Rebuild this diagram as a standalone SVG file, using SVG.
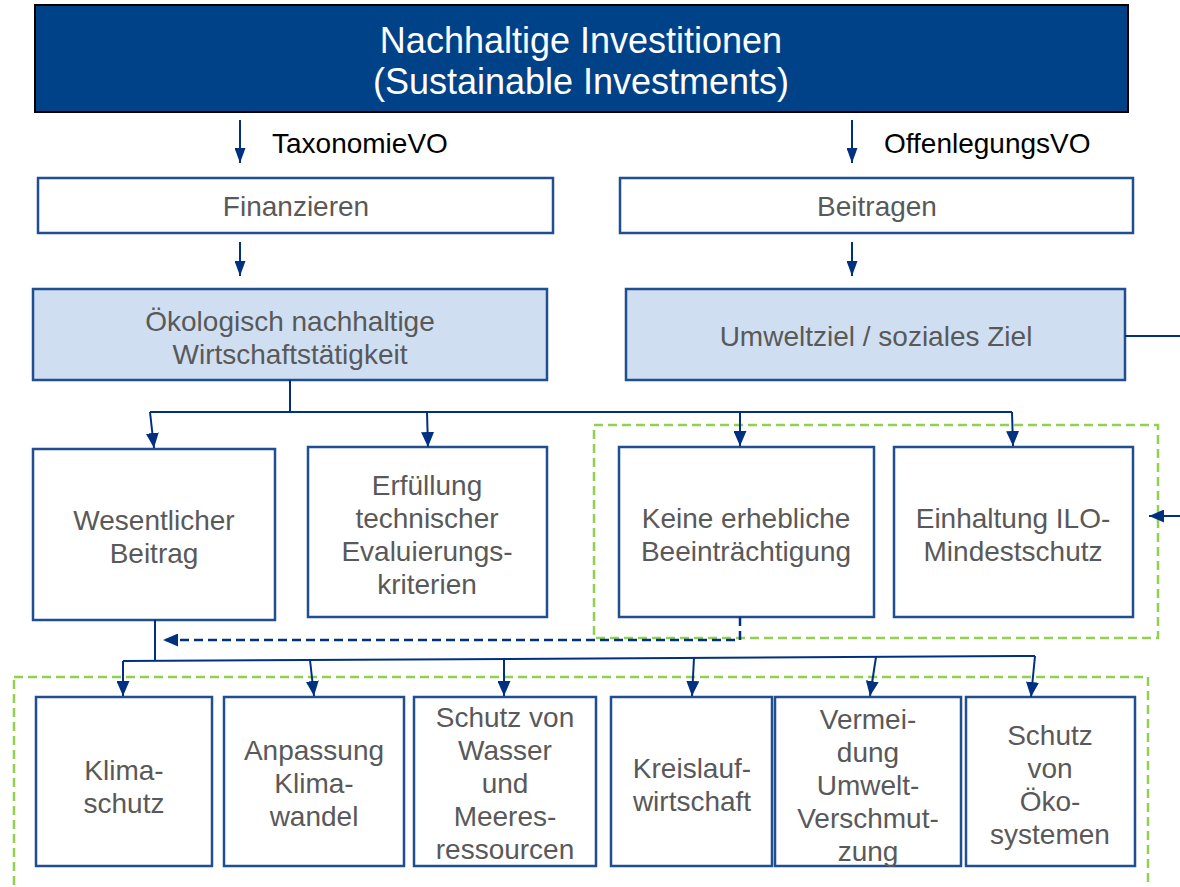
<svg xmlns="http://www.w3.org/2000/svg" width="1180" height="887" viewBox="0 0 1180 887">
<style>
.box{fill:#ffffff;stroke:#1F4E91;stroke-width:2.5}
.lbox{fill:#CFDFF1;stroke:#1F4E91;stroke-width:2.5}
.t{font-family:"Liberation Sans",Arial,sans-serif;font-size:28px;fill:#595959;text-anchor:middle}
.lab{font-family:"Liberation Sans",Arial,sans-serif;font-size:28px;fill:#000000}
.title{font-family:"Liberation Sans",Arial,sans-serif;font-size:36px;fill:#ffffff;text-anchor:middle}
.c{fill:none;stroke:#003180;stroke-width:2}
.cd{fill:none;stroke:#003180;stroke-width:2.5;stroke-dasharray:9,5}
.g{fill:none;stroke:#92D050;stroke-width:2.5;stroke-dasharray:9,5}
</style>
<defs>
<marker id="ah" viewBox="0 0 15 13" refX="15" refY="6.5" markerWidth="15" markerHeight="13" markerUnits="userSpaceOnUse" orient="auto">
<path d="M0,0 L15,6.5 L0,13 z" fill="#003180"/>
</marker>
<marker id="ahs" viewBox="0 0 15 11" refX="15" refY="5.5" markerWidth="15" markerHeight="11" markerUnits="userSpaceOnUse" orient="auto">
<path d="M0,0 L15,5.5 L0,11 z" fill="#003180"/>
</marker>
</defs>

<g id="groups">
<rect class="g" x="594" y="425" width="564" height="213"/>
<rect class="g" x="14" y="677" width="1134" height="230"/>
</g>

<g id="title">
<rect x="35" y="5" width="1093" height="107" fill="#004288" stroke="#000000" stroke-width="2"/>
<text class="title" x="581" y="53">Nachhaltige Investitionen</text>
<text class="title" x="581" y="94">(Sustainable Investments)</text>
</g>

<g id="labels">
<text class="lab" x="272" y="153">TaxonomieVO</text>
<text class="lab" x="884" y="153">OffenlegungsVO</text>
</g>

<g id="finanzieren">
<rect class="box" x="38" y="178" width="515" height="55"/>
<text class="t" x="296" y="216">Finanzieren</text>
</g>
<g id="beitragen">
<rect class="box" x="620" y="178" width="513" height="55"/>
<text class="t" x="877" y="216">Beitragen</text>
</g>

<g id="oekologisch">
<rect class="lbox" x="33" y="289" width="514" height="91"/>
<text class="t" x="290" y="331">Ökologisch nachhaltige</text>
<text class="t" x="290" y="364">Wirtschaftstätigkeit</text>
</g>
<g id="umweltziel">
<rect class="lbox" x="626" y="289" width="499" height="91"/>
<text class="t" x="876" y="346">Umweltziel / soziales Ziel</text>
</g>

<g id="wesentlicher">
<rect class="box" x="33" y="449" width="242" height="171"/>
<text class="t" x="154" y="530">Wesentlicher</text>
<text class="t" x="154" y="563">Beitrag</text>
</g>
<g id="erfuellung">
<rect class="box" x="308" y="447" width="239" height="170"/>
<text class="t" x="427" y="495">Erfüllung</text>
<text class="t" x="427" y="528">technischer</text>
<text class="t" x="427" y="561">Evaluierungs-</text>
<text class="t" x="427" y="594">kriterien</text>
</g>
<g id="keine">
<rect class="box" x="619" y="447" width="255" height="170"/>
<text class="t" x="746" y="528">Keine erhebliche</text>
<text class="t" x="746" y="561">Beeinträchtigung</text>
</g>
<g id="einhaltung">
<rect class="box" x="894" y="447" width="239" height="170"/>
<text class="t" x="1013" y="528">Einhaltung ILO-</text>
<text class="t" x="1013" y="561">Mindestschutz</text>
</g>

<g id="klimaschutz">
<rect class="box" x="36" y="697" width="176" height="169"/>
<text class="t" x="124" y="780">Klima-</text>
<text class="t" x="124" y="813">schutz</text>
</g>
<g id="anpassung">
<rect class="box" x="224" y="697" width="180" height="169"/>
<text class="t" x="314" y="760">Anpassung</text>
<text class="t" x="314" y="793">Klima-</text>
<text class="t" x="314" y="826">wandel</text>
</g>
<g id="wasser">
<rect class="box" x="414" y="697" width="182" height="169"/>
<text class="t" x="505" y="727">Schutz von</text>
<text class="t" x="505" y="760">Wasser</text>
<text class="t" x="505" y="793">und</text>
<text class="t" x="505" y="826">Meeres-</text>
<text class="t" x="505" y="859">ressourcen</text>
</g>
<g id="kreislauf">
<rect class="box" x="611" y="697" width="161" height="169"/>
<text class="t" x="692" y="778">Kreislauf-</text>
<text class="t" x="692" y="811">wirtschaft</text>
</g>
<g id="vermeidung">
<rect class="box" x="775" y="697" width="186" height="169"/>
<text class="t" x="868" y="729">Vermei-</text>
<text class="t" x="868" y="762">dung</text>
<text class="t" x="868" y="795">Umwelt-</text>
<text class="t" x="868" y="828">Verschmut-</text>
<text class="t" x="868" y="861">zung</text>
</g>
<g id="oekosysteme">
<rect class="box" x="966" y="697" width="169" height="169"/>
<text class="t" x="1050" y="745">Schutz</text>
<text class="t" x="1050" y="778">von</text>
<text class="t" x="1050" y="811">Öko-</text>
<text class="t" x="1050" y="844">systemen</text>
</g>

<g id="connectors">
<line class="c" x1="240" y1="120" x2="240" y2="163" marker-end="url(#ahs)"/>
<line class="c" x1="852" y1="120" x2="852" y2="163" marker-end="url(#ahs)"/>
<line class="c" x1="240" y1="242" x2="240" y2="276" marker-end="url(#ahs)"/>
<line class="c" x1="852" y1="242" x2="852" y2="276" marker-end="url(#ahs)"/>
<line class="c" x1="290" y1="380" x2="290" y2="412"/>
<line class="c" x1="150" y1="412" x2="1012" y2="412"/>
<line class="c" x1="150" y1="412" x2="154" y2="448" marker-end="url(#ah)"/>
<line class="c" x1="427" y1="412" x2="428" y2="447" marker-end="url(#ah)"/>
<line class="c" x1="740" y1="412" x2="740" y2="446" marker-end="url(#ah)"/>
<line class="c" x1="1012" y1="412" x2="1013" y2="446" marker-end="url(#ah)"/>
<line class="c" x1="1125" y1="336" x2="1180" y2="336"/>
<line class="c" x1="1180" y1="516" x2="1149" y2="516" marker-end="url(#ah)"/>
<polyline class="cd" points="740,617 740,640 163,640" marker-end="url(#ah)"/>
<line class="c" x1="155" y1="620" x2="155" y2="661"/>
<line class="c" x1="123" y1="661" x2="1035" y2="656"/>
<line class="c" x1="123" y1="661" x2="123" y2="696" marker-end="url(#ah)"/>
<line class="c" x1="310" y1="660" x2="314" y2="696" marker-end="url(#ah)"/>
<line class="c" x1="504" y1="659" x2="504" y2="696" marker-end="url(#ah)"/>
<line class="c" x1="694" y1="658" x2="692" y2="696" marker-end="url(#ah)"/>
<line class="c" x1="876" y1="657" x2="870" y2="696" marker-end="url(#ah)"/>
<line class="c" x1="1035" y1="656" x2="1031" y2="697" marker-end="url(#ah)"/>
</g>
</svg>
